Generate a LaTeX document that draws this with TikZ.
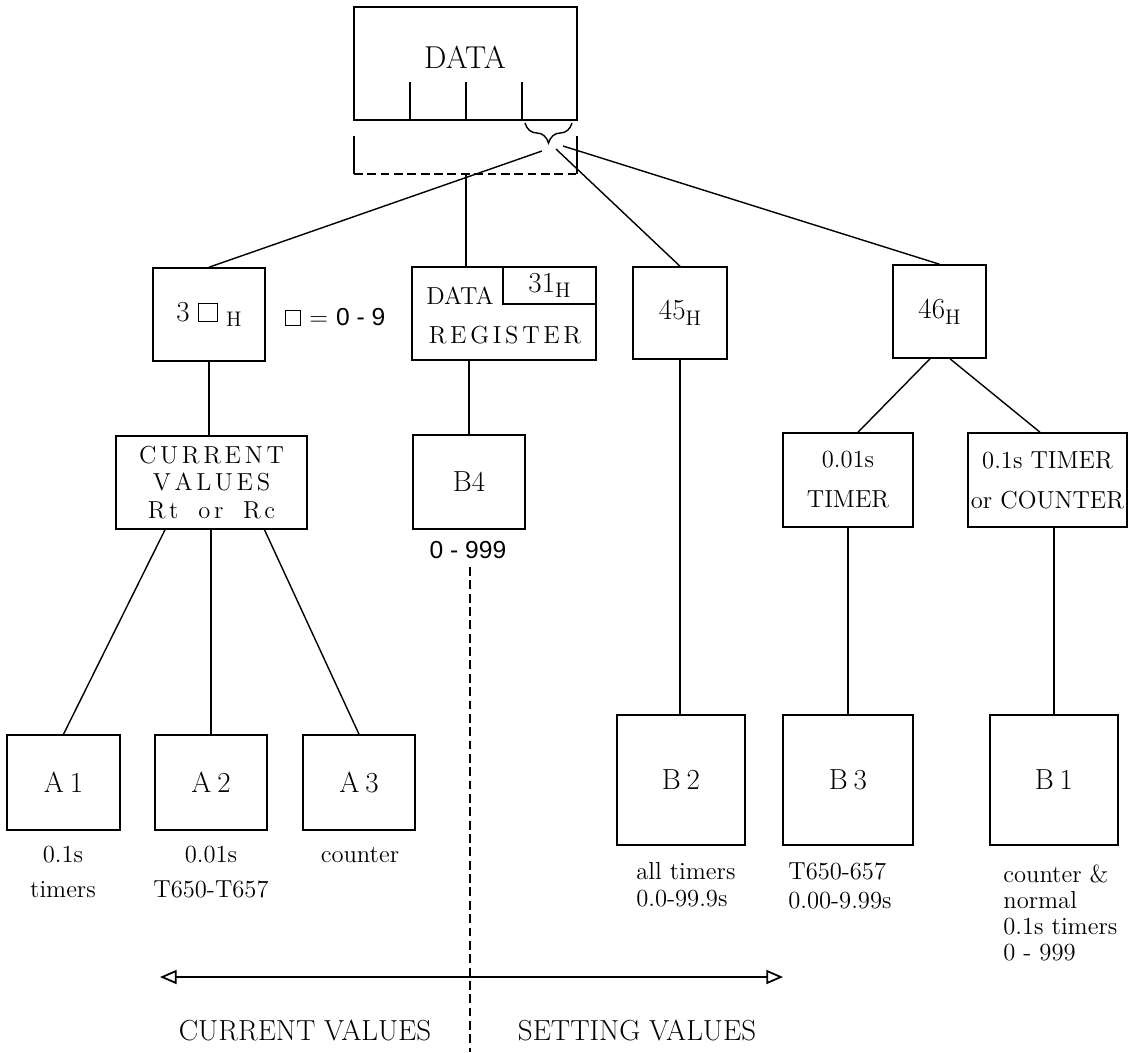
\documentclass[tikz,border=0pt]{standalone}
\usepackage{fontspec}
\newfontfamily\hv{Liberation Sans}
\usetikzlibrary{calc,arrows.meta,decorations.pathreplacing}

% letter spacing, hollow square and lowered H suffix
\newcommand{\lsp}{\kern0.15em}
\newcommand{\sqbox}{{\fboxsep=0pt\fboxrule=0.5pt\fbox{\rule{0pt}{0.6em}\hspace{0.6em}}}}
\newcommand{\subH}{\raisebox{-0.45ex}{\fontsize{12}{13}\selectfont H}}

\begin{document}
\begin{tikzpicture}[x=0.02cm,y=-0.02cm,
  txt/.style={font=\fontsize{14}{14.2}\selectfont, inner sep=0pt},
  big/.style={font=\fontsize{16.5}{18}\selectfont},
  box/.style={draw, line width=0.9pt, inner sep=0pt, font=\fontsize{14}{14.2}\selectfont},
  link/.style={line width=0.8pt},
  dashline/.style={line width=0.8pt, dash pattern=on 5pt off 2.6pt},
  bothends/.style={{Triangle[open,length=9.5pt,width=8pt,line width=1pt]}-{Triangle[open,length=9.5pt,width=8pt,line width=1pt]}}]

\useasboundingbox (0,0) rectangle (1141,1052);

% data word with its digit ticks
\node[box, minimum width=4.46cm, minimum height=2.26cm] (data) at (465.5,63.5) {};
\node[txt, font=\fontsize{18}{20}\selectfont] (datalbl) at (465,57) {DATA};
\foreach \xx in {410,466,522} \draw[link] (\xx,120) -- (\xx,82);

% brace under the last digit
\draw[link, decorate, decoration={brace, amplitude=0.4cm, mirror}] (525,123) -- (572,123);

% dashed bracket below the word
\coordinate (brL) at (354,136);
\coordinate (brR) at (577,136);
\coordinate (brBL) at (354,174);
\coordinate (brBR) at (577,174);
\coordinate (brM) at (466,174);
\draw[link] (brL) -- (brBL);
\draw[link] (brR) -- (brBR);
\draw[dashline] (brBL) -- (brBR);

% fan of connectors from the brace
\coordinate (f1) at (542,151);
\coordinate (f2) at (556,149);
\coordinate (f3) at (563,146);

% second row
\node[box, big, minimum width=2.24cm, minimum height=1.86cm] (h3) at (209,314.5) {3\hspace{0.3em}\sqbox\hspace{0.3em}\subH};
\node[txt] (rng) at (335,317) {\sqbox{} = {\hv 0 - 9}};
\node[box, minimum width=3.68cm, minimum height=1.86cm] (reg) at (504,313.5) {};
\node[draw, big, line width=0.9pt, anchor=north east, minimum width=1.86cm, minimum height=0.74cm, inner sep=0pt] (regaddr) at (reg.north east) {31\subH};
\node[txt] (regdata) at (460,296) {DATA};
\node[txt] (regname) at (505,335) {R\lsp E\lsp G\lsp I\lsp S\lsp T\lsp E\lsp R};
\node[box, big, minimum width=1.88cm, minimum height=1.84cm] (h45) at (680,313) {45\subH};
\node[box, big, minimum width=1.86cm, minimum height=1.86cm] (h46) at (939.5,311.5) {46\subH};

\draw[link] (f1) -- (h3.north);
\draw[link] (brM) -- (brM |- reg.north);
\draw[link] (f2) -- (h45.north);
\draw[link] (f3) -- (h46.north);

% third row
\node[box, minimum width=3.82cm, minimum height=1.86cm, align=center] (cur) at (211.5,482.5)
  {C\lsp U\lsp R\lsp R\lsp E\lsp N\lsp T\\[1.4pt]V\lsp A\lsp L\lsp U\lsp E\lsp S\\[1.4pt]R\lsp t\hspace{0.8em}o\lsp r\hspace{0.8em}R\lsp c};
\node[box, big, minimum width=2.24cm, minimum height=1.88cm] (b4) at (469,482) {B4};
\node[txt] (b4r) at (468,550) {\hv 0 - 999};
\node[box, minimum width=2.6cm, minimum height=1.88cm, align=center] (t01) at (848,480) {0.01s\\[8.5pt]TIMER};
\node[box, minimum width=3.18cm, minimum height=1.88cm, align=center] (t1) at (1047.5,480) {0.1s TIMER\\[8.5pt]or COUNTER};

\draw[link] (h3.south) -- (h3.south |- cur.north);
\draw[link] (b4.north |- reg.south) -- (b4.north);
\draw[link] ($(h46.south)+(-9.5,0)$) -- ($(t01.north)+(10,0)$);
\draw[link] ($(h46.south)+(10.5,0)$) -- ($(t1.north)+(-7.5,0)$);

% bottom row
\node[box, big, minimum width=2.26cm, minimum height=1.9cm] (a1) at (63.5,782.5) {A\hspace{0.2em}1};
\node[box, big, minimum width=2.24cm, minimum height=1.9cm] (a2) at (211,782.5) {A\hspace{0.2em}2};
\node[box, big, minimum width=2.24cm, minimum height=1.9cm] (a3) at (359,782.5) {A\hspace{0.2em}3};
\node[box, big, minimum width=2.56cm, minimum height=2.6cm] (b2) at (681,780) {B\hspace{0.2em}2};
\node[box, big, minimum width=2.6cm, minimum height=2.6cm] (b3) at (848,780) {B\hspace{0.2em}3};
\node[box, big, minimum width=2.56cm, minimum height=2.6cm] (b1) at (1054,780) {B\hspace{0.2em}1};

\draw[link] ($(cur.south)+(-46.5,0)$) -- (a1.north);
\draw[link] (a2.north |- cur.south) -- (a2.north);
\draw[link] ($(cur.south)+(53,0)$) -- (a3.north);
\draw[link] (h45.south) -- (h45.south |- b2.north);
\draw[link] (t01.south) -- (b3.north);
\draw[link] (b1.north |- t1.south) -- (b1.north);

% notes under the boxes
\node[txt, align=center] (a1l) at (63,872) {0.1s\\[5.6pt]timers};
\node[txt, align=center] (a2l) at (211,872) {0.01s\\[5.6pt]T650-T657};
\node[txt] (a3l) at (360,855) {counter};
\node[txt, align=left, anchor=west] (b2l) at (636,885) {all timers\\[1pt]0.0-99.9s};
\node[txt, align=left, anchor=west] (b3l) at (788,886) {T650-657\\[2pt]0.00-9.99s};
\node[txt, align=left, anchor=west] (b1l) at (1003,913) {counter \&\\[0.5pt]normal\\[0.5pt]0.1s timers\\[0.5pt]0 - 999};

% current / setting divide
\coordinate (divT) at (470,567);
\coordinate (divB) at (470,1052);
\draw[dashline] (divT) -- (divB);
\coordinate (arrL) at (160,977);
\coordinate (arrR) at (783,977);
\draw[link, bothends] (arrL) -- (arrR);
\node[txt, big] (curv) at (305,1030) {CURRENT VALUES};
\node[txt, big] (setv) at (637,1030) {SETTING VALUES};
\end{tikzpicture}
\end{document}
